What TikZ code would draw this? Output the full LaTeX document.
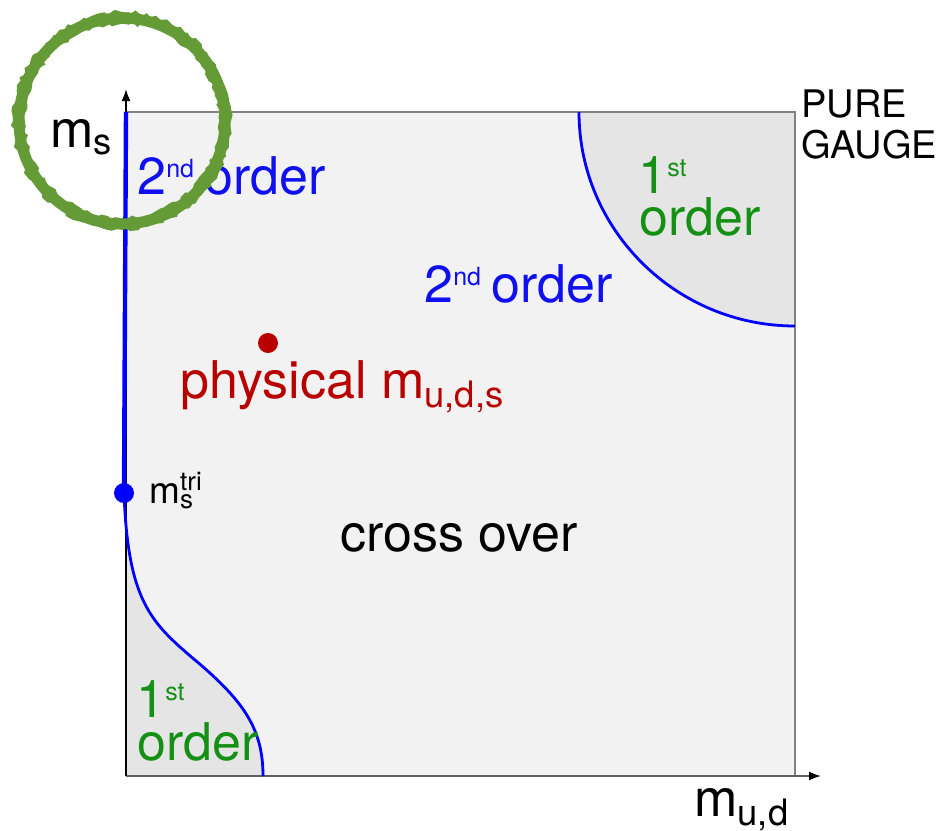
\documentclass[tikz,border=0pt]{standalone}
\usepackage{fontspec}
\setmainfont{TeX Gyre Heros}
\usetikzlibrary{arrows.meta,decorations.pathmorphing}
\definecolor{panel}{RGB}{242,242,242}
\definecolor{zone}{RGB}{229,229,229}
\definecolor{frame}{RGB}{130,130,130}
\definecolor{axisgray}{RGB}{95,95,95}
\definecolor{lineblue}{RGB}{0,0,255}
\definecolor{textblue}{RGB}{15,15,240}
\definecolor{textgreen}{RGB}{20,145,20}
\definecolor{textred}{RGB}{185,0,0}
\definecolor{marker}{RGB}{100,155,55}
% ordinal with a small raised suffix
\newcommand\ordinal[2]{#1\raisebox{8.5pt}{\fontsize{12.5}{12.5}\selectfont #2}}
\begin{document}
\begin{tikzpicture}[x=0.5pt,y=-0.5pt,
  lbl/.style={anchor=base west, inner sep=0pt, font=\fontsize{26}{21}\selectfont},
  small/.style={anchor=base west, inner sep=0pt, font=\fontsize{19}{20.5}\selectfont},
  tiny/.style={anchor=base west, inner sep=0pt, font=\fontsize{18.5}{20}\selectfont},
  axisline/.style={axisgray, line width=0.9pt, -{Latex[length=6pt,width=4.5pt,color=black]}},
  boundary/.style={lineblue, line width=1.4pt},
  ring/.style={marker, line width=5.5pt},
  roughring/.style={marker, line width=1.3pt, decorate,
    decoration={random steps, segment length=2.5pt, amplitude=1.1pt}}]
\useasboundingbox (0,0) rectangle (949,831);

% corners of the phase diagram
\coordinate (O) at (126,776);
\coordinate (TL) at (126,112);
\coordinate (TR) at (795,112);
\coordinate (BR) at (795,776);
\coordinate (ytip) at (126,89);
\coordinate (xtip) at (821,776);
\coordinate (tri) at (124,493);
\coordinate (phys) at (268,343);
\coordinate (ringc) at (122,121);

% background and first-order regions
\fill[panel] (O) rectangle (TR);
\fill[zone] (579,112) .. controls (579,230) and (676,326) .. (795,326) -- (TR) -- cycle;
\fill[zone] (126,495) .. controls (128,600) and (150,622) .. (195,660)
  .. controls (245,702) and (263,730) .. (263,776) -- (O) -- cycle;

% frame and axes
\draw[frame, line width=1pt] (TL) -- (TR) -- (BR) -- (O);
\draw[axisline] (O) -- (xtip);
\draw[axisline, black] (O) -- (ytip);

% second-order lines
\draw[boundary, line width=2.2pt] (TL) -- (tri);
\draw[boundary] (tri) .. controls (128,600) and (150,622) .. (195,660)
  .. controls (245,702) and (263,730) .. (263,776);
\draw[boundary] (579,112) .. controls (579,230) and (676,326) .. (795,326);

% points
\fill[lineblue] (tri) circle (5pt);
\fill[textred] (phys) circle (5pt);

% labels
\node[lbl] (ms) at (50,147) {m\textsubscript{s}};
\node[lbl, textblue] (so1) at (137,194) {\ordinal{2}{nd}\kern-2pt{} order};
\node[lbl, textblue] (so2) at (424,302) {\ordinal{2}{nd}\kern-2pt{} order};
\node[lbl, textgreen] (fo1a) at (638,193) {\ordinal{1}{st}};
\node[lbl, textgreen] (fo1b) at (639,235) {order};
\node[small] (pg1) at (801,117) {PURE};
\node[small] (pg2) at (801,158) {GAUGE};
\node[lbl, textred] (physlbl) at (180,398) {physical m\textsubscript{u,d,s}};
\node[tiny] (trilbl) at (149,503) {m\rlap{\textsuperscript{tri}}\textsubscript{s}};
\node[lbl] (cross) at (340,551) {cross over};
\node[lbl, textgreen] (fo2a) at (136,717) {\ordinal{1}{st}};
\node[lbl, textgreen] (fo2b) at (137,760) {order};
\node[lbl] (mud) at (694,816) {m\textsubscript{u,d}};

% hand-drawn highlight ring
\draw[ring] (ringc) circle[radius=103];
\draw[roughring] (ringc) circle[radius=107.5];
\draw[roughring] (ringc) circle[radius=98.5];
\draw[roughring, line width=0.8pt] (ringc) circle[radius=103];
\end{tikzpicture}
\end{document}
